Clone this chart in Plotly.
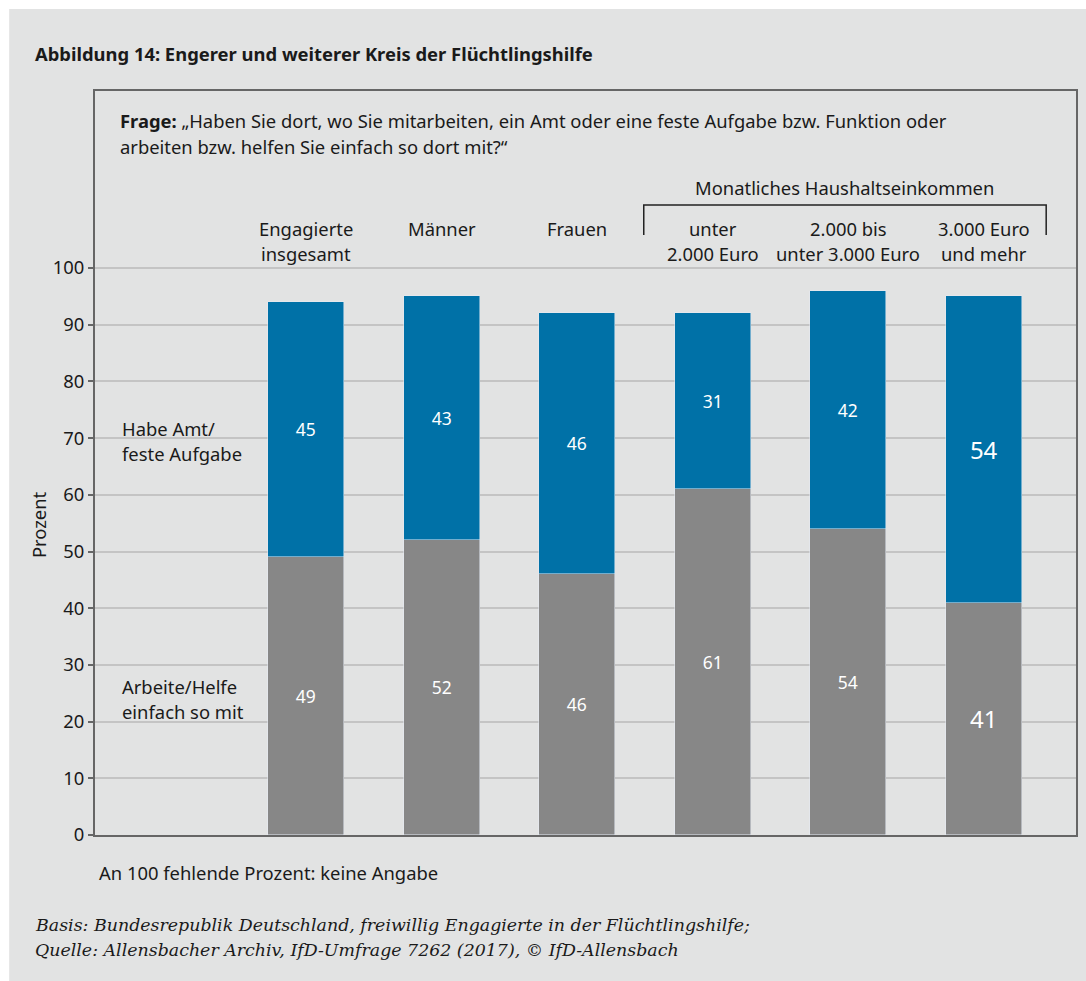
import plotly.graph_objects as go

# --- data ---------------------------------------------------------------
categories = [
    ("Engagierte", "insgesamt"),
    ("Männer", ""),
    ("Frauen", ""),
    ("unter", "2.000 Euro"),
    ("2.000 bis", "unter 3.000 Euro"),
    ("3.000 Euro", "und mehr"),
]
arbeite_helfe = [49, 52, 46, 61, 54, 41]      # Arbeite/Helfe einfach so mit
amt_aufgabe = [45, 43, 46, 31, 42, 54]        # Habe Amt/feste Aufgabe
label_sizes = [17.5, 17.5, 17.5, 17.5, 17.5, 24]
y_ticks = list(range(0, 101, 10))

# --- styling --------------------------------------------------------------
W, H = 1086, 981
PL, PR, PT, PB = 95, 1078, 91, 835          # plot box in pixels
FONT = "Noto Sans"
FS = 18.4
BG = "#e2e3e3"
BLUE = "#0071a7"
GREY = "#878787"
TXT = "#1a1a1a"
Y_MAX = 100 * (PB - PT) / (PB - 268)         # 100 gridline sits at y=268px
X_RANGE = [-1.56, 5.68]


def px(x):
    return (x - PL) / (PR - PL)


def py(y):
    return (PB - y) / (PB - PT)


xs = list(range(len(categories)))

fig = go.Figure()
fig.add_trace(go.Bar(
    x=xs, y=arbeite_helfe, marker_color=GREY, width=0.56,
    text=[str(v) for v in arbeite_helfe], textposition="inside",
    insidetextanchor="middle", textangle=0, constraintext="none",
    textfont=dict(color="white", size=label_sizes, family=FONT),
    hoverinfo="skip", showlegend=False,
))
fig.add_trace(go.Bar(
    x=xs, y=amt_aufgabe, marker_color=BLUE, width=0.56,
    text=[str(v) for v in amt_aufgabe], textposition="inside",
    insidetextanchor="middle", textangle=0, constraintext="none",
    textfont=dict(color="white", size=label_sizes, family=FONT),
    hoverinfo="skip", showlegend=False,
))

annotations = []


def note(text, x, y, xanchor="left", size=FS, color=TXT, family=FONT, xref="paper", **kw):
    annotations.append(dict(
        text=text, x=x if xref != "paper" else px(x), y=py(y),
        xref=xref, yref="paper", xanchor=xanchor, yanchor="middle",
        showarrow=False, font=dict(size=size, color=color, family=family), **kw,
    ))


note("<b>Abbildung 14: Engerer und weiterer Kreis der Flüchtlingshilfe</b>", 33, 53, size=18.4)
note("<b>Frage:</b> „Haben Sie dort, wo Sie mitarbeiten, ein Amt oder eine feste Aufgabe bzw. Funktion oder",
     118, 121)
note("arbeiten bzw. helfen Sie einfach so dort mit?“", 118, 146)
note("Monatliches Haushaltseinkommen", 846, 187, xanchor="center")

for i, (l1, l2) in enumerate(categories):
    note(l1, i, 229, xanchor="center", xref="x")
    if l2:
        note(l2, i, 253, xanchor="center", xref="x")

note("Habe Amt/", 120, 428)
note("feste Aufgabe", 120, 453)
note("Arbeite/Helfe", 120, 686)
note("einfach so mit", 120, 711)
note("An 100 fehlende Prozent: keine Angabe", 97, 872)
note("<i>Basis: Bundesrepublik Deutschland, freiwillig Engagierte in der Flüchtlingshilfe;</i>",
     33, 925, family="DejaVu Serif", size=17.4)
note("<i>Quelle: Allensbacher Archiv, IfD-Umfrage 7262 (2017), © IfD-Allensbach</i>",
     33, 950, family="DejaVu Serif", size=17.4)
note("Prozent", 38, 525, xanchor="center", textangle=-90)

shapes = [
    # grey panel behind everything
    dict(type="rect", xref="paper", yref="paper", layer="below",
         x0=px(9), x1=px(W + 5), y0=py(H + 5), y1=py(9),
         fillcolor=BG, line=dict(width=0)),
    # bracket over the income groups
    dict(type="path", xref="x", yref="paper",
         path=f"M 2.49 {py(235)} L 2.49 {py(205)} L 5.46 {py(205)} L 5.46 {py(235)}",
         line=dict(color="#222222", width=1.5)),
]

fig.update_layout(
    width=W, height=H,
    margin=dict(l=PL, r=W - PR, t=PT, b=H - PB, pad=0),
    barmode="stack",
    paper_bgcolor="white", plot_bgcolor=BG,
    font=dict(family=FONT, size=FS, color=TXT),
    annotations=annotations, shapes=shapes,
    xaxis=dict(range=X_RANGE, showticklabels=False, ticks="", showgrid=False,
               zeroline=False, showline=True, mirror=True,
               linecolor="#666666", linewidth=2, fixedrange=True),
    yaxis=dict(range=[0, Y_MAX], tickvals=y_ticks, ticks="outside", ticklen=5,
               tickcolor="#666666", tickwidth=1.5, showgrid=True,
               gridcolor="#c4c4c4", gridwidth=1.5, zeroline=False,
               showline=True, mirror=True, linecolor="#666666", linewidth=2,
               tickfont=dict(size=FS, color=TXT, family=FONT), fixedrange=True),
    bargap=0,
)

fig.write_html("out.html")
